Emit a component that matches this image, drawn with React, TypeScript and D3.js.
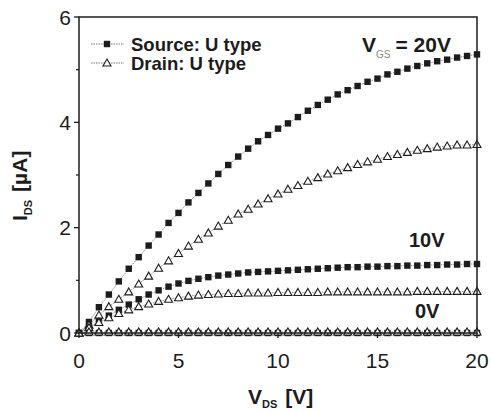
import React from "react";
import * as d3 from "d3";

// V_DS sample points (V)
const vds = [
  0, 0.5, 1, 1.5, 2, 2.5, 3, 3.5, 4, 4.5, 5, 5.5, 6, 6.5, 7, 7.5, 8, 8.5, 9, 9.5, 10,
  10.5, 11, 11.5, 12, 12.5, 13, 13.5, 14, 14.5, 15, 15.5, 16, 16.5, 17, 17.5, 18, 18.5, 19, 19.5, 20,
];

// I_DS (uA)
const source20 = [
  0, 0.21, 0.49, 0.73, 0.98, 1.22, 1.44, 1.66, 1.87, 2.09, 2.28, 2.48, 2.66, 2.84, 3.02, 3.19, 3.35, 3.5, 3.64, 3.76, 3.88,
  3.98, 4.1, 4.22, 4.33, 4.43, 4.53, 4.61, 4.69, 4.77, 4.83, 4.91, 4.96, 5.02, 5.07, 5.12, 5.16, 5.19, 5.23, 5.26, 5.29,
];
const drain20 = [
  0, 0.15, 0.34, 0.5, 0.64, 0.78, 0.93, 1.08, 1.23, 1.37, 1.51, 1.65, 1.78, 1.9, 2.03, 2.14, 2.26, 2.35, 2.45, 2.55, 2.64,
  2.73, 2.8, 2.88, 2.95, 3.02, 3.08, 3.14, 3.2, 3.25, 3.3, 3.35, 3.39, 3.43, 3.47, 3.5, 3.53, 3.55, 3.57, 3.57, 3.58,
];
const source10 = [
  0, 0.1, 0.22, 0.33, 0.44, 0.54, 0.64, 0.73, 0.81, 0.88, 0.94, 0.99, 1.03, 1.06, 1.09, 1.11, 1.13, 1.15, 1.16, 1.17, 1.18,
  1.19, 1.2, 1.21, 1.22, 1.23, 1.24, 1.25, 1.25, 1.26, 1.26, 1.27, 1.27, 1.28, 1.28, 1.29, 1.29, 1.3, 1.3, 1.31, 1.31,
];
const drain10 = [
  0, 0.1, 0.2, 0.29, 0.37, 0.44, 0.5, 0.55, 0.6, 0.64, 0.67, 0.7, 0.72, 0.73, 0.74, 0.75, 0.75, 0.76, 0.76, 0.76, 0.77,
  0.77, 0.77, 0.77, 0.77, 0.78, 0.78, 0.78, 0.78, 0.78, 0.78, 0.78, 0.78, 0.78, 0.79, 0.79, 0.79, 0.79, 0.79, 0.79, 0.79,
];
const source0 = [
  0, 0, 0, 0, 0, 0, 0, 0, 0, 0, 0, 0, 0, 0, 0, 0, 0, 0, 0, 0, 0,
  0, 0, 0, 0, 0, 0, 0, 0, 0, 0, 0, 0, 0, 0, 0, 0, 0, 0, 0, 0,
];
const drain0 = [
  0, 0.02, 0.02, 0.02, 0.02, 0.02, 0.02, 0.02, 0.02, 0.02, 0.02, 0.02, 0.02, 0.02, 0.02, 0.02, 0.02, 0.02, 0.02, 0.02, 0.02,
  0.02, 0.02, 0.02, 0.02, 0.02, 0.02, 0.02, 0.02, 0.02, 0.02, 0.02, 0.02, 0.02, 0.02, 0.02, 0.02, 0.02, 0.02, 0.02, 0.02,
];

const xMajor = [0, 5, 10, 15, 20];
const xMinor = [2.5, 7.5, 12.5, 17.5];
const yMajor = [0, 2, 4, 6];
const yMinor = [1, 3, 5];

const series = [
  { name: "Source: U type", values: source20, kind: "square" },
  { name: "Drain: U type", values: drain20, kind: "triangle" },
  { name: "Source: U type", values: source10, kind: "square" },
  { name: "Drain: U type", values: drain10, kind: "triangle" },
  { name: "Source: U type", values: source0, kind: "square" },
  { name: "Drain: U type", values: drain0, kind: "triangle" },
];

const INK = "#1c1c1c";
const FONT = "'Liberation Sans', Arial, Helvetica, sans-serif";

const Marker = ({ kind, x, y }: { kind: string; x: number; y: number }) =>
  kind === "square" ? (
    <rect x={x - 3.2} y={y - 3.2} width={6.4} height={6.4} fill={INK} />
  ) : (
    <path
      d={`M${x},${y - 4}L${x + 4},${y + 3}L${x - 4},${y + 3}Z`}
      fill="white"
      stroke={INK}
      strokeWidth={1.1}
    />
  );

export default function App() {
  const width = 491;
  const height = 413;
  const margin = { top: 17, right: 14, bottom: 80, left: 79 };

  const x = d3.scaleLinear().domain([0, 20]).range([margin.left, width - margin.right]);
  const y = d3.scaleLinear().domain([0, 6]).range([height - margin.bottom, margin.top]);

  const line = d3
    .line<number>()
    .x((_, i) => x(vds[i]))
    .y((d) => y(d));

  const x0 = x(0);
  const x1 = x(20);
  const y0 = y(0);
  const y1 = y(6);

  return (
    <svg
      width={width}
      height={height}
      style={{ position: "absolute", left: 0, top: 0, background: "white" }}
      fontFamily={FONT}
    >
      {/* curves */}
      {series.map((s, si) => (
        <g key={si}>
          <path d={line(s.values) || ""} fill="none" stroke="#777" strokeWidth={0.8} strokeDasharray="1.5,1" />
          {s.values.map((v, i) => (
            <Marker key={i} kind={s.kind} x={x(vds[i])} y={y(v)} />
          ))}
        </g>
      ))}

      {/* frame */}
      <rect x={x0} y={y1} width={x1 - x0} height={y0 - y1} fill="none" stroke={INK} strokeWidth={1.5} />

      {/* x ticks */}
      {xMajor.map((t) => (
        <g key={"xm" + t}>
          <line x1={x(t)} x2={x(t)} y1={y0} y2={y0 + 5} stroke={INK} strokeWidth={1.3} />
          <text x={x(t)} y={368} textAnchor="middle" fontSize={21} fill={INK}>
            {t}
          </text>
        </g>
      ))}
      {xMinor.map((t) => (
        <line key={"xn" + t} x1={x(t)} x2={x(t)} y1={y0} y2={y0 + 3} stroke={INK} strokeWidth={1.2} />
      ))}

      {/* y ticks */}
      {yMajor.map((t) => (
        <g key={"ym" + t}>
          <line x1={x0 - 5} x2={x0} y1={y(t)} y2={y(t)} stroke={INK} strokeWidth={1.3} />
          <text x={71} y={y(t) + 7.5} textAnchor="end" fontSize={21} fill={INK}>
            {t}
          </text>
        </g>
      ))}
      {yMinor.map((t) => (
        <line key={"yn" + t} x1={x0 - 3} x2={x0} y1={y(t)} y2={y(t)} stroke={INK} strokeWidth={1.2} />
      ))}

      {/* axis titles */}
      <text x={248} y={404} fontSize={21} fontWeight="bold" fill={INK}>
        V<tspan fontSize={11} dy={4}>DS</tspan>
        <tspan dy={-4} dx={8}>[V]</tspan>
      </text>
      <text
        transform="translate(27,221) rotate(-90)"
        fontSize={21}
        fontWeight="bold"
        fill={INK}
      >
        I<tspan fontSize={11} dy={5}>DS</tspan>
        <tspan dy={-5} dx={8}>[µA]</tspan>
      </text>

      {/* legend */}
      {[
        { label: "Source: U type", kind: "square", yy: 44 },
        { label: "Drain: U type", kind: "triangle", yy: 63 },
      ].map((l) => (
        <g key={l.label}>
          <line x1={91} x2={124} y1={l.yy} y2={l.yy} stroke="#777" strokeWidth={1} strokeDasharray="1.5,1" />
          <Marker kind={l.kind} x={107} y={l.yy} />
          <text x={131} y={l.yy + 7} fontSize={18.5} fontWeight="bold" fill={INK}>
            {l.label}
          </text>
        </g>
      ))}

      {/* gate voltage labels */}
      <text x={362} y={52} fontSize={21} fontWeight="bold" fill={INK}>
        V<tspan fontSize={10} dy={6} fontWeight="normal" fill="#888">GS</tspan>
        <tspan dy={-6} dx={5}>= 20V</tspan>
      </text>
      <text x={409} y={247} fontSize={20} fontWeight="bold" fill={INK}>
        10V
      </text>
      <text x={415} y={318} fontSize={20} fontWeight="bold" fill={INK}>
        0V
      </text>
    </svg>
  );
}
